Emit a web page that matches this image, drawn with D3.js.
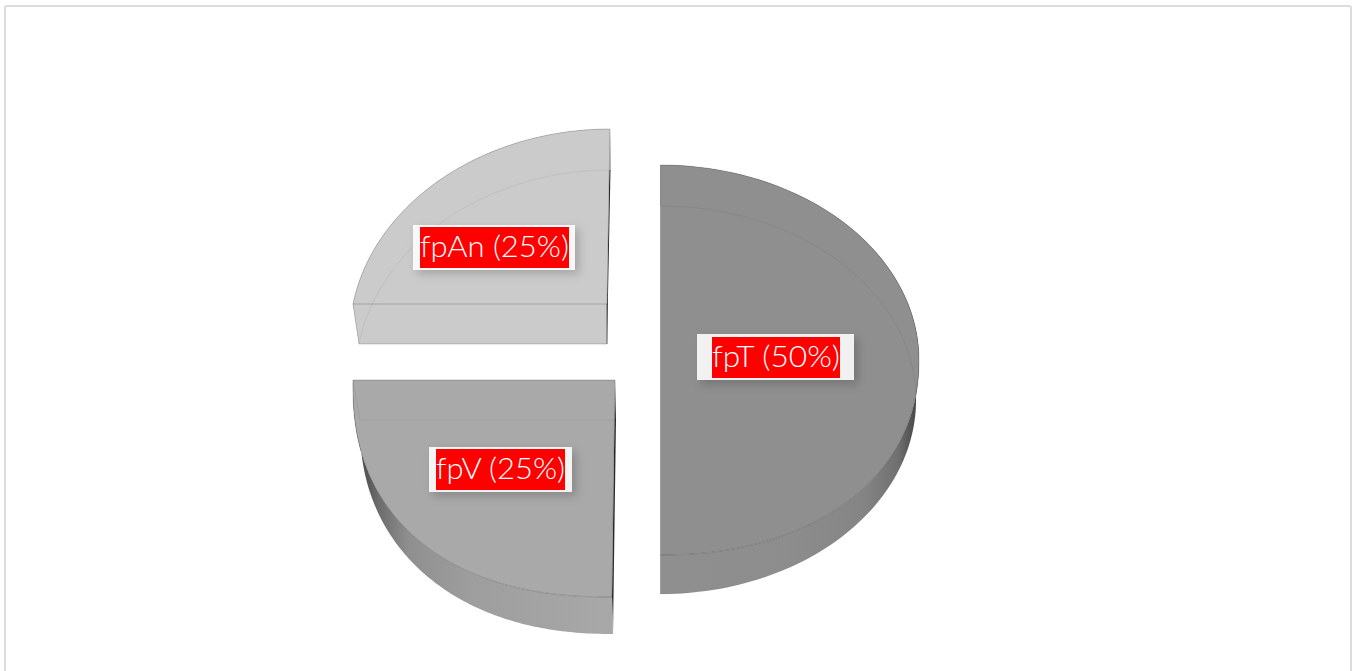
<!DOCTYPE html>
<html>
<head>
<meta charset="utf-8">
<script src="https://cdn.jsdelivr.net/npm/d3@7"></script>
<style>
  html, body { margin: 0; padding: 0; background: #fff; overflow: hidden; }
  svg { display: block; }
</style>
</head>
<body>
<svg id="chart"></svg>
<script>
const categories = ["fpT", "fpV", "fpAn"];
const shares = [50, 25, 25];
const topColors = ["#8f8f8f", "#a9a9a9", "#cbcbcb"];

const width = 1354, height = 671;

// each slice has its own exploded offset and perspective
// k shrinks the far part of a rim, p swells the near part (2 = plain ellipse)
const layout = {
  fpT: {
    top: { cx: 660.5, cy: 360, rx: 258.5, ry: 195, skew: 0, k: 0, p: 2.15 },
    bottom: { cx: 660.5, cy: 400, rx: 255.5, ry: 194, skew: 0, k: 0, p: 2 },
    box: [697, 334, 157, 46], red: [712, 337, 128, 41],
    wall: [[0, "#8f8f8f"], [0.5, "#8d8d8d"], [0.8, "#848484"], [0.93, "#707070"], [1, "#484848"]],
    wallX: [660, 916]
  },
  fpV: {
    top: { cx: 615, cy: 380, rx: 262, ry: 217, skew: -3, k: 0, p: 2.3 },
    bottom: { cx: 616, cy: 420, rx: 256, ry: 214, skew: -3, k: 0, p: 2.2 },
    box: [429, 447, 143, 45], red: [436, 449, 129, 41],
    wall: [[0, "#464646"], [0.08, "#6c6c6c"], [0.2, "#8f8f8f"], [0.45, "#9e9e9e"], [1, "#a8a8a8"]],
    wallX: [358, 612]
  },
  fpAn: {
    top: { cx: 607, cy: 304, rx: 254, ry: 175, skew: -3, k: 0.15, p: 2 },
    bottom: { cx: 607, cy: 344, rx: 248, ry: 174, skew: -3.5, k: 0.15, p: 2 },
    box: [413, 225, 162, 45], red: [420, 227, 149, 41],
    wall: [[0, "#cbcbcb"], [1, "#cbcbcb"]],
    wallX: [353, 607]
  }
};

const svg = d3.select("#chart").attr("width", width).attr("height", height);
const defs = svg.append("defs");

const shadow = defs.append("filter").attr("id", "labelShadow")
  .attr("x", "-20%").attr("y", "-40%").attr("width", "140%").attr("height", "200%");
shadow.append("feDropShadow")
  .attr("dx", 4).attr("dy", 4).attr("stdDeviation", 5)
  .attr("flood-color", "#000").attr("flood-opacity", 0.22);

// page frame, runs off the bottom of the shot
svg.append("rect")
  .attr("x", 5).attr("y", 6).attr("width", 1346).attr("height", 720).attr("rx", 2)
  .attr("fill", "#fff").attr("stroke", "#dcdcdc").attr("stroke-width", 2);

const pie = d3.pie().sort(null).value(d => d);
const arcs = pie(shares);
const color = d3.scaleOrdinal().domain(categories).range(topColors);

// unit circle -> flattened, skewed rim on screen
function projector(f) {
  const x = d3.scaleLinear().domain([-1, 1]).range([f.cx - f.rx, f.cx + f.rx]);
  const y = d3.scaleLinear().domain([-1, 1]).range([f.cy - f.ry, f.cy + f.ry]);
  return a => {
    const sx = Math.sin(a), sy = -Math.cos(a);
    const e = sy > 0 ? 2 / f.p : 1;
    const ux = Math.sign(sx) * Math.pow(Math.abs(sx), e);
    const uy = Math.sign(sy) * Math.pow(Math.abs(sy), e);
    const w = 1 - f.k * uy;
    return [x(ux / w) + uy * f.skew, y(uy * (1 + f.k) / w)];
  };
}

function rim(arc, f) {
  const p = projector(f);
  const n = 120;
  return d3.range(n + 1).map(i => p(arc.startAngle + (arc.endAngle - arc.startAngle) * i / n));
}

const line = d3.line();

const slices = svg.selectAll("g.slice")
  .data(arcs)
  .join("g")
  .attr("class", "slice");

slices.each(function (d, i) {
  const g = d3.select(this);
  const name = categories[i];
  const cfg = layout[name];
  const topRim = rim(d, cfg.top);
  const botRim = rim(d, cfg.bottom);
  const topC = [cfg.top.cx, cfg.top.cy];
  const botC = [cfg.bottom.cx, cfg.bottom.cy];
  const last = topRim.length - 1;

  const gradId = "wall" + i;
  const grad = defs.append("linearGradient").attr("id", gradId)
    .attr("gradientUnits", "userSpaceOnUse")
    .attr("x1", cfg.wallX[0]).attr("x2", cfg.wallX[1]).attr("y1", 0).attr("y2", 0);
  cfg.wall.forEach(s => grad.append("stop").attr("offset", s[0]).attr("stop-color", s[1]));

  // cut faces, seen as a thin dark sliver on the straight edges
  if (name !== "fpT") {
    const corner = name === "fpV" ? 0 : last;
    g.append("path")
      .attr("d", line([topC, topRim[corner], botRim[corner], botC]) + "Z")
      .attr("fill", "#2e2e2e");
  }

  // outer wall
  g.append("path")
    .attr("d", line(topRim.concat(botRim.slice().reverse())) + "Z")
    .attr("fill", `url(#${gradId})`);

  // front cut wall of the back slice
  if (name === "fpAn") {
    g.append("path")
      .attr("d", line([topRim[0], topC, botC, botRim[0]]) + "Z")
      .attr("fill", color(name));
    g.append("path")
      .attr("d", line([topRim[0], botRim[0], botC]))
      .attr("fill", "none").attr("stroke", "#000").attr("stroke-opacity", 0.18);
    g.append("path")
      .attr("d", line([topC, botC]))
      .attr("stroke", "#2e2e2e").attr("stroke-opacity", 0.7);
  }
  if (name === "fpT") {
    g.append("path")
      .attr("d", line([topRim[last], botRim[last]]))
      .attr("stroke", "#000").attr("stroke-opacity", 0.2);
  }

  // top face
  g.append("path")
    .attr("d", line([topC].concat(topRim)) + "Z")
    .attr("fill", color(name))
    .attr("stroke", "#000").attr("stroke-opacity", 0.2).attr("stroke-width", 1);

  // bottom rim showing faintly through the face
  const hidden = name === "fpV"
    ? [botRim[last], botC]
    : botRim;
  g.append("path")
    .attr("d", line(hidden))
    .attr("fill", "none")
    .attr("stroke", "#000").attr("stroke-opacity", 0.06).attr("stroke-width", 1);
  if (name === "fpV") {
    g.append("path")
      .attr("d", line([topRim[last], botRim[last]]))
      .attr("stroke", "#000").attr("stroke-opacity", 0.06);
  }
});

// labels go on top of everything
const labels = svg.selectAll("g.label")
  .data(arcs)
  .join("g")
  .attr("class", "label");

labels.append("rect")
  .attr("x", (d, i) => layout[categories[i]].box[0])
  .attr("y", (d, i) => layout[categories[i]].box[1])
  .attr("width", (d, i) => layout[categories[i]].box[2])
  .attr("height", (d, i) => layout[categories[i]].box[3])
  .attr("fill", "#fff").attr("fill-opacity", 0.88)
  .attr("filter", "url(#labelShadow)");

labels.append("rect")
  .attr("x", (d, i) => layout[categories[i]].red[0])
  .attr("y", (d, i) => layout[categories[i]].red[1])
  .attr("width", (d, i) => layout[categories[i]].red[2])
  .attr("height", (d, i) => layout[categories[i]].red[3])
  .attr("fill", "#ff0000");

labels.append("text")
  .attr("x", (d, i) => layout[categories[i]].red[0])
  .attr("y", (d, i) => layout[categories[i]].red[1] + 30)
  .attr("textLength", (d, i) => layout[categories[i]].red[2])
  .attr("lengthAdjust", "spacingAndGlyphs")
  .attr("fill", "#fff")
  .style("font-family", "Lato, 'Open Sans', sans-serif")
  .style("font-weight", 300)
  .style("font-size", "30px")
  .text((d, i) => `${categories[i]} (${d.value}%)`);
</script>
</body>
</html>
